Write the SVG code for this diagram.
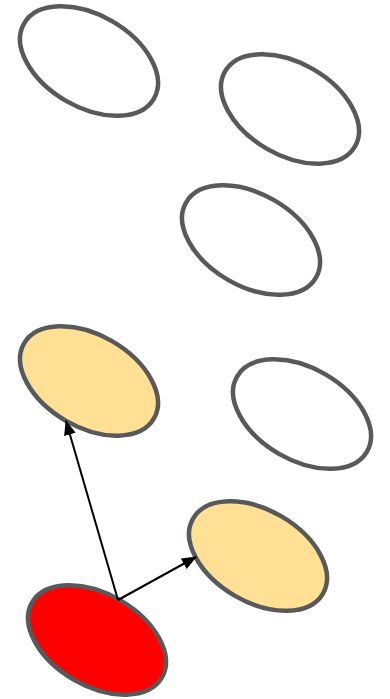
<svg xmlns="http://www.w3.org/2000/svg" width="390" height="699" viewBox="0 0 390 699">
<style>
.n{stroke:#595959;stroke-width:4.5}
.w{fill:#ffffff}
.y{fill:#ffe094}
.r{fill:#ff0000}
.c{stroke:#000;stroke-width:2;fill:none;marker-end:url(#ah)}
</style>
<defs>
<marker id="ah" markerUnits="userSpaceOnUse" markerWidth="15" markerHeight="12" refX="14" refY="6" orient="auto">
<path d="M0,0 L15,6 L0,12 z" fill="#000"/>
</marker>
</defs>
<rect width="390" height="699" fill="#fff"/>
<g id="n1"><ellipse class="n w" cx="89" cy="61" rx="75" ry="46" transform="rotate(30 89 61)"/></g>
<g id="n2"><ellipse class="n w" cx="290" cy="109" rx="75" ry="46" transform="rotate(30 290 109)"/></g>
<g id="n3"><ellipse class="n w" cx="251" cy="240" rx="75" ry="46" transform="rotate(30 251 240)"/></g>
<g id="n4"><ellipse class="n y" cx="89" cy="381" rx="75" ry="46" transform="rotate(30 89 381)"/></g>
<g id="n5"><ellipse class="n w" cx="302" cy="414" rx="75" ry="46" transform="rotate(30 302 414)"/></g>
<g id="n6"><ellipse class="n y" cx="258" cy="556" rx="75" ry="46" transform="rotate(30 258 556)"/></g>
<g id="n7"><ellipse class="n r" cx="97" cy="640" rx="75" ry="46" transform="rotate(30 97 640)"/></g>
<g id="connectors">
<line class="c" x1="118" y1="600" x2="66" y2="421"/>
<line class="c" x1="118" y1="600" x2="196" y2="557"/>
</g>
</svg>
